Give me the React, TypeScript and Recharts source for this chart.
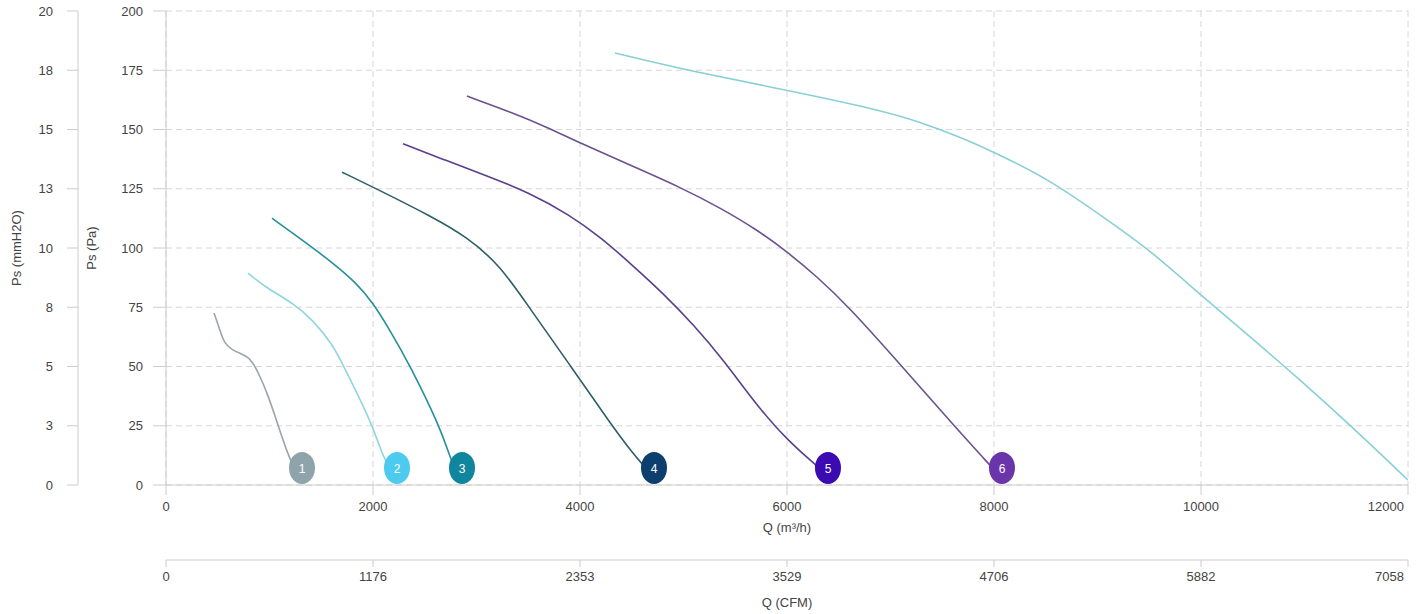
import React from 'react';
import { ComposedChart, Line, Scatter, XAxis, YAxis, CartesianGrid } from 'recharts';

// Axis ticks
const Q_TICKS = [0, 2000, 4000, 6000, 8000, 10000, 12000];
const CFM_LABELS = ['0', '1176', '2353', '3529', '4706', '5882', '7058'];
const PA_TICKS = [0, 25, 50, 75, 100, 125, 150, 175, 200];
const MMH2O_LABELS = ['0', '3', '5', '8', '10', '13', '15', '18', '20'];

// Curves (Q in m³/h, Ps in Pa)
const curve1Q = [464, 520, 560, 638, 720, 792, 840, 889, 986, 1082, 1169, 1230];
const curve1P = [72.6, 65.5, 60, 57, 55.5, 54, 51.5, 47.7, 38, 25.3, 13.9, 8];
const curve2Q = [792, 976, 1227, 1420, 1614, 1710, 1855, 2000, 2097, 2155];
const curve2P = [89.4, 83, 76.8, 69.6, 59, 50.6, 38, 24.5, 11.8, 8.4];
const curve3Q = [1024, 1295, 1614, 1845, 2000, 2145, 2357, 2647, 2744, 2780];
const curve3P = [112.6, 104, 93.7, 85, 76.8, 66.7, 50.6, 24.5, 11.8, 8];
const curve4Q = [1701, 2000, 2580, 2908, 3227, 3507, 3913, 4309, 4500, 4610];
const curve4P = [132, 125.7, 113, 104.6, 92.8, 75, 50, 25, 14, 8.4];
const curve5Q = [2290, 2700, 3100, 3500, 3900, 4200, 4500, 4800, 5100, 5400, 5700, 6000, 6290];
const curve5P = [144, 137, 130.5, 123.5, 114, 104.5, 93, 81, 67.5, 52, 34, 19, 8];
const curve6Q = [2908, 3353, 3681, 4000, 4483, 4966, 5353, 5700, 6000, 6300, 6590, 7092, 7604, 7960];
const curve6P = [164.1, 157, 151, 144.3, 135, 125.7, 117, 108, 98.5, 87.5, 75.5, 51, 25.5, 8.4];
const curve7Q = [4338, 5063, 6000, 6899, 7285, 7672, 8000, 8541, 9024, 9507, 10000, 10570, 10957, 11440, 12000];
const curve7P = [182.3, 174.7, 166.6, 158.2, 153.2, 146.8, 140.5, 128.7, 114, 99.2, 80, 59, 44.3, 25.3, 2.1];

const lineColors = ['#9aa6aa', '#8fd6df', '#23909b', '#2d5f68', '#5a3f8c', '#6c5190', '#88d0d6'];

// Curve number markers
const markerQ = [1314, 2232, 2860, 4715, 6396, 8077];
const markerP = [7.2, 7.2, 7.2, 7.2, 7.2, 7.2];
const markerNum = ['1', '2', '3', '4', '5', '6'];
const markerColors = ['#8fa3ab', '#4ccbee', '#10869e', '#0d3f6e', '#3b0ab0', '#6a35a8'];

const toData = (q: number[], p: number[]) => q.map((v, i) => ({ q: v, p: p[i] }));
const curves = [
  toData(curve1Q, curve1P),
  toData(curve2Q, curve2P),
  toData(curve3Q, curve3P),
  toData(curve4Q, curve4P),
  toData(curve5Q, curve5P),
  toData(curve6Q, curve6P),
  toData(curve7Q, curve7P),
];
const markers = markerQ.map((q, i) => ({ q, p: markerP[i], n: markerNum[i], c: markerColors[i] }));

const FONT = '"Liberation Sans", Arial, sans-serif';
const TEXT = '#444';
const AXIS = '#cccccc';

const makeXTick = (labels: string[]) => (props: any) => {
  const { x, y, index } = props;
  const last = index === labels.length - 1;
  return (
    <text x={x} y={y} dy="0.71em" textAnchor={last ? 'end' : 'middle'} fill={TEXT} fontSize={13} fontFamily={FONT}>
      {labels[index]}
    </text>
  );
};

const qTick = makeXTick(Q_TICKS.map(String));
const cfmTick = makeXTick(CFM_LABELS);

const xTitle = (text: string, dy: number) => (props: any) => {
  const vb = props.viewBox || {};
  return (
    <text x={vb.x + vb.width / 2} y={vb.y + dy} textAnchor="middle" fill={TEXT} fontSize={13} fontFamily={FONT}>
      {text}
    </text>
  );
};

const yTitle = (text: string, dx: number) => (props: any) => {
  const vb = props.viewBox || {};
  const x = vb.x + dx;
  const y = vb.y + vb.height / 2;
  return (
    <text x={x} y={y} textAnchor="middle" dominantBaseline="central" transform={`rotate(-90, ${x}, ${y})`} fill={TEXT} fontSize={13} fontFamily={FONT}>
      {text}
    </text>
  );
};

const MarkerShape = (props: any) => {
  const { cx, cy, payload } = props;
  return (
    <g>
      <ellipse cx={cx} cy={cy} rx={13} ry={16} fill={payload.c} />
      <text x={cx} y={cy} dy={5} textAnchor="middle" fill="#ffffff" fontSize={12} fontFamily={FONT}>
        {payload.n}
      </text>
    </g>
  );
};

export default function App() {
  return (
    <div style={{ position: 'absolute', left: 0, top: 0, width: 1424, height: 614, background: '#fff' }}>
      <ComposedChart width={1424} height={614} margin={{ top: 11, right: 16, bottom: 0, left: 0 }}>
        <CartesianGrid xAxisId="a_q" yAxisId="a_pa" stroke="#d6d6d6" strokeDasharray="6 4" />
        <XAxis
          xAxisId="b_cfm"
          dataKey="q"
          type="number"
          domain={[0, 12000]}
          ticks={Q_TICKS}
          height={54}
          tickSize={7}
          tickMargin={5}
          stroke={AXIS}
          tick={cfmTick}
          label={xTitle('Q (CFM)', 47)}
          allowDataOverflow
        />
        <XAxis
          xAxisId="a_q"
          dataKey="q"
          type="number"
          domain={[0, 12000]}
          ticks={Q_TICKS}
          height={75}
          tickSize={10}
          tickMargin={7}
          stroke={AXIS}
          tick={qTick}
          label={xTitle('Q (m³/h)', 47)}
          allowDataOverflow
        />
        <YAxis
          yAxisId="b_mm"
          type="number"
          domain={[0, 200]}
          ticks={PA_TICKS}
          width={78}
          tickSize={11}
          tickMargin={14}
          stroke={AXIS}
          tickFormatter={(v: number, i: number) => MMH2O_LABELS[i]}
          tick={{ fill: TEXT, fontSize: 13, fontFamily: FONT }}
          label={yTitle('Ps (mmH2O)', 16)}
          allowDataOverflow
        />
        <YAxis
          yAxisId="a_pa"
          type="number"
          domain={[0, 200]}
          ticks={PA_TICKS}
          width={88}
          tickSize={13}
          tickMargin={10}
          stroke={AXIS}
          tick={{ fill: TEXT, fontSize: 13, fontFamily: FONT }}
          label={yTitle('Ps (Pa)', 13)}
          allowDataOverflow
        />
        {curves.map((d, i) => (
          <Line
            key={i}
            xAxisId="a_q"
            yAxisId="a_pa"
            data={d}
            dataKey="p"
            type="basis"
            stroke={lineColors[i]}
            strokeWidth={1.6}
            dot={false}
            activeDot={false}
            isAnimationActive={false}
          />
        ))}
        <Scatter
          xAxisId="a_q"
          yAxisId="a_pa"
          data={markers}
          dataKey="p"
          shape={MarkerShape}
          isAnimationActive={false}
        />
      </ComposedChart>
    </div>
  );
}
